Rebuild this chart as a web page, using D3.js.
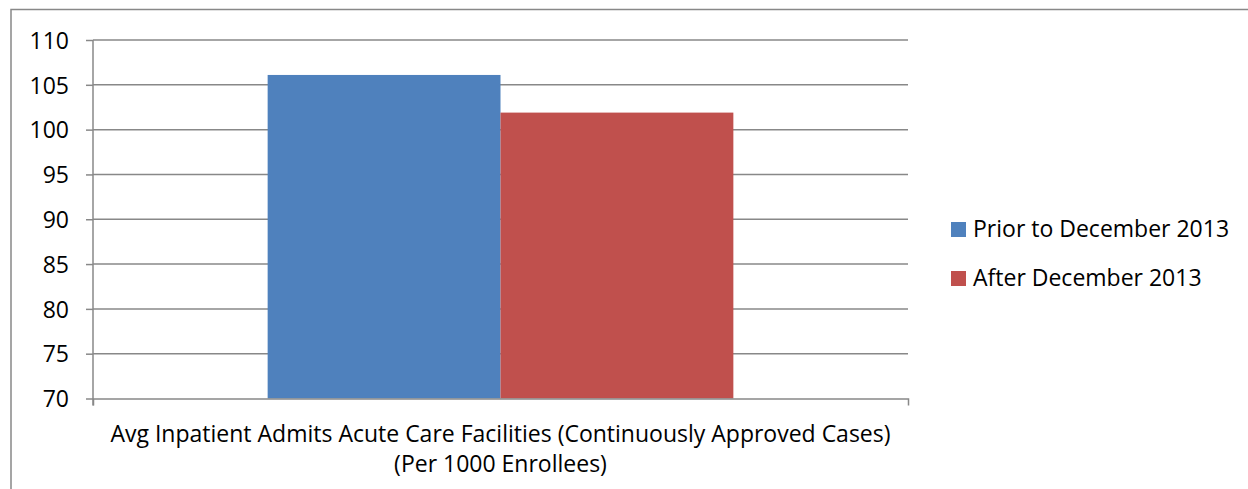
<!DOCTYPE html>
<html>
<head>
<meta charset="utf-8">
<script src="https://cdn.jsdelivr.net/npm/d3@7"></script>
<style>
  html, body { margin: 0; padding: 0; background: #fff; }
  svg { display: block; font-family: "Open Sans", "Liberation Sans", sans-serif; }
</style>
</head>
<body>
<svg id="chart" width="1248" height="489"></svg>
<script>
// Chart data
const categories = ["Avg Inpatient Admits Acute Care Facilities (Continuously Approved Cases) (Per 1000 Enrollees)"];
const categoryLines = ["Avg Inpatient Admits Acute Care Facilities (Continuously Approved Cases)", "(Per 1000 Enrollees)"];
const seriesNames = ["Prior to December 2013", "After December 2013"];
const seriesValues = [[106.1], [101.9]];
const seriesColors = ["#4F81BD", "#C0504D"];
const yTicks = [70, 75, 80, 85, 90, 95, 100, 105, 110];

const svg = d3.select("#chart");
const plot = { left: 93, right: 908, top: 40, bottom: 398.5 };
const gridColor = "#888888";
const fontSize = "23px";

// Outer chart frame
svg.append("rect")
  .attr("x", 11).attr("y", 9.5)
  .attr("width", 1400).attr("height", 800)
  .attr("fill", "none").attr("stroke", gridColor).attr("stroke-width", 1.5);

const y = d3.scaleLinear().domain([70, 110]).range([plot.bottom, plot.top]);
const x = d3.scaleBand().domain(categories).range([plot.left, plot.right]);

// Series within a category: gap width of 150% of one bar
const barW = x.bandwidth() / (seriesNames.length + 1.5);
const xs = d3.scaleBand().domain(seriesNames)
  .range([-barW * seriesNames.length / 2, barW * seriesNames.length / 2]);

// Horizontal gridlines
svg.append("g").selectAll("line").data(yTicks.filter(t => t > 70)).join("line")
  .attr("x1", plot.left).attr("x2", plot.right)
  .attr("y1", d => y(d)).attr("y2", d => y(d))
  .attr("stroke", gridColor).attr("stroke-width", 1.5);

// Bars
categories.forEach((c, ci) => {
  const cx = x(c) + x.bandwidth() / 2;
  svg.append("g").selectAll("rect").data(seriesNames).join("rect")
    .attr("x", s => cx + xs(s))
    .attr("width", xs.bandwidth())
    .attr("y", (s, si) => y(seriesValues[si][ci]))
    .attr("height", (s, si) => y(70) - y(seriesValues[si][ci]))
    .attr("fill", (s, si) => seriesColors[si]);
});

// Y axis
const yAxis = d3.axisLeft(y).tickValues(yTicks).tickSize(7).tickPadding(17);
const gy = svg.append("g").attr("transform", `translate(${plot.left},0)`).call(yAxis);
gy.select(".domain").attr("stroke", gridColor).attr("stroke-width", 1.5)
  .attr("d", `M0,${plot.top}V${plot.bottom + 7}`);
gy.selectAll(".tick line").attr("stroke", gridColor).attr("stroke-width", 1.5);
gy.selectAll(".tick text").attr("fill", "#000").style("font-size", fontSize)
  .style("font-family", "'Open Sans', sans-serif").attr("dy", "0.36em");

// X axis
const xAxis = d3.axisBottom(x).tickValues([]).tickSizeOuter(7);
const gx = svg.append("g").attr("transform", `translate(0,${plot.bottom})`).call(xAxis);
gx.select(".domain").attr("stroke", gridColor).attr("stroke-width", 1.5);

// Category label (two lines)
const lbl = svg.append("text")
  .attr("text-anchor", "middle").attr("fill", "#000").style("font-size", fontSize);
categoryLines.forEach((t, i) => {
  lbl.append("tspan").attr("x", x(categories[0]) + x.bandwidth() / 2)
    .attr("y", 442 + i * 30).text(t);
});

// Legend
const legend = svg.append("g").attr("transform", "translate(951,222)");
seriesNames.forEach((s, i) => {
  const g = legend.append("g").attr("transform", `translate(0,${i * 49})`);
  g.append("rect").attr("width", 15).attr("height", 15).attr("fill", seriesColors[i]);
  g.append("text").attr("x", 22).attr("y", 15).attr("fill", "#000")
    .style("font-size", fontSize).text(s);
});
</script>
</body>
</html>
